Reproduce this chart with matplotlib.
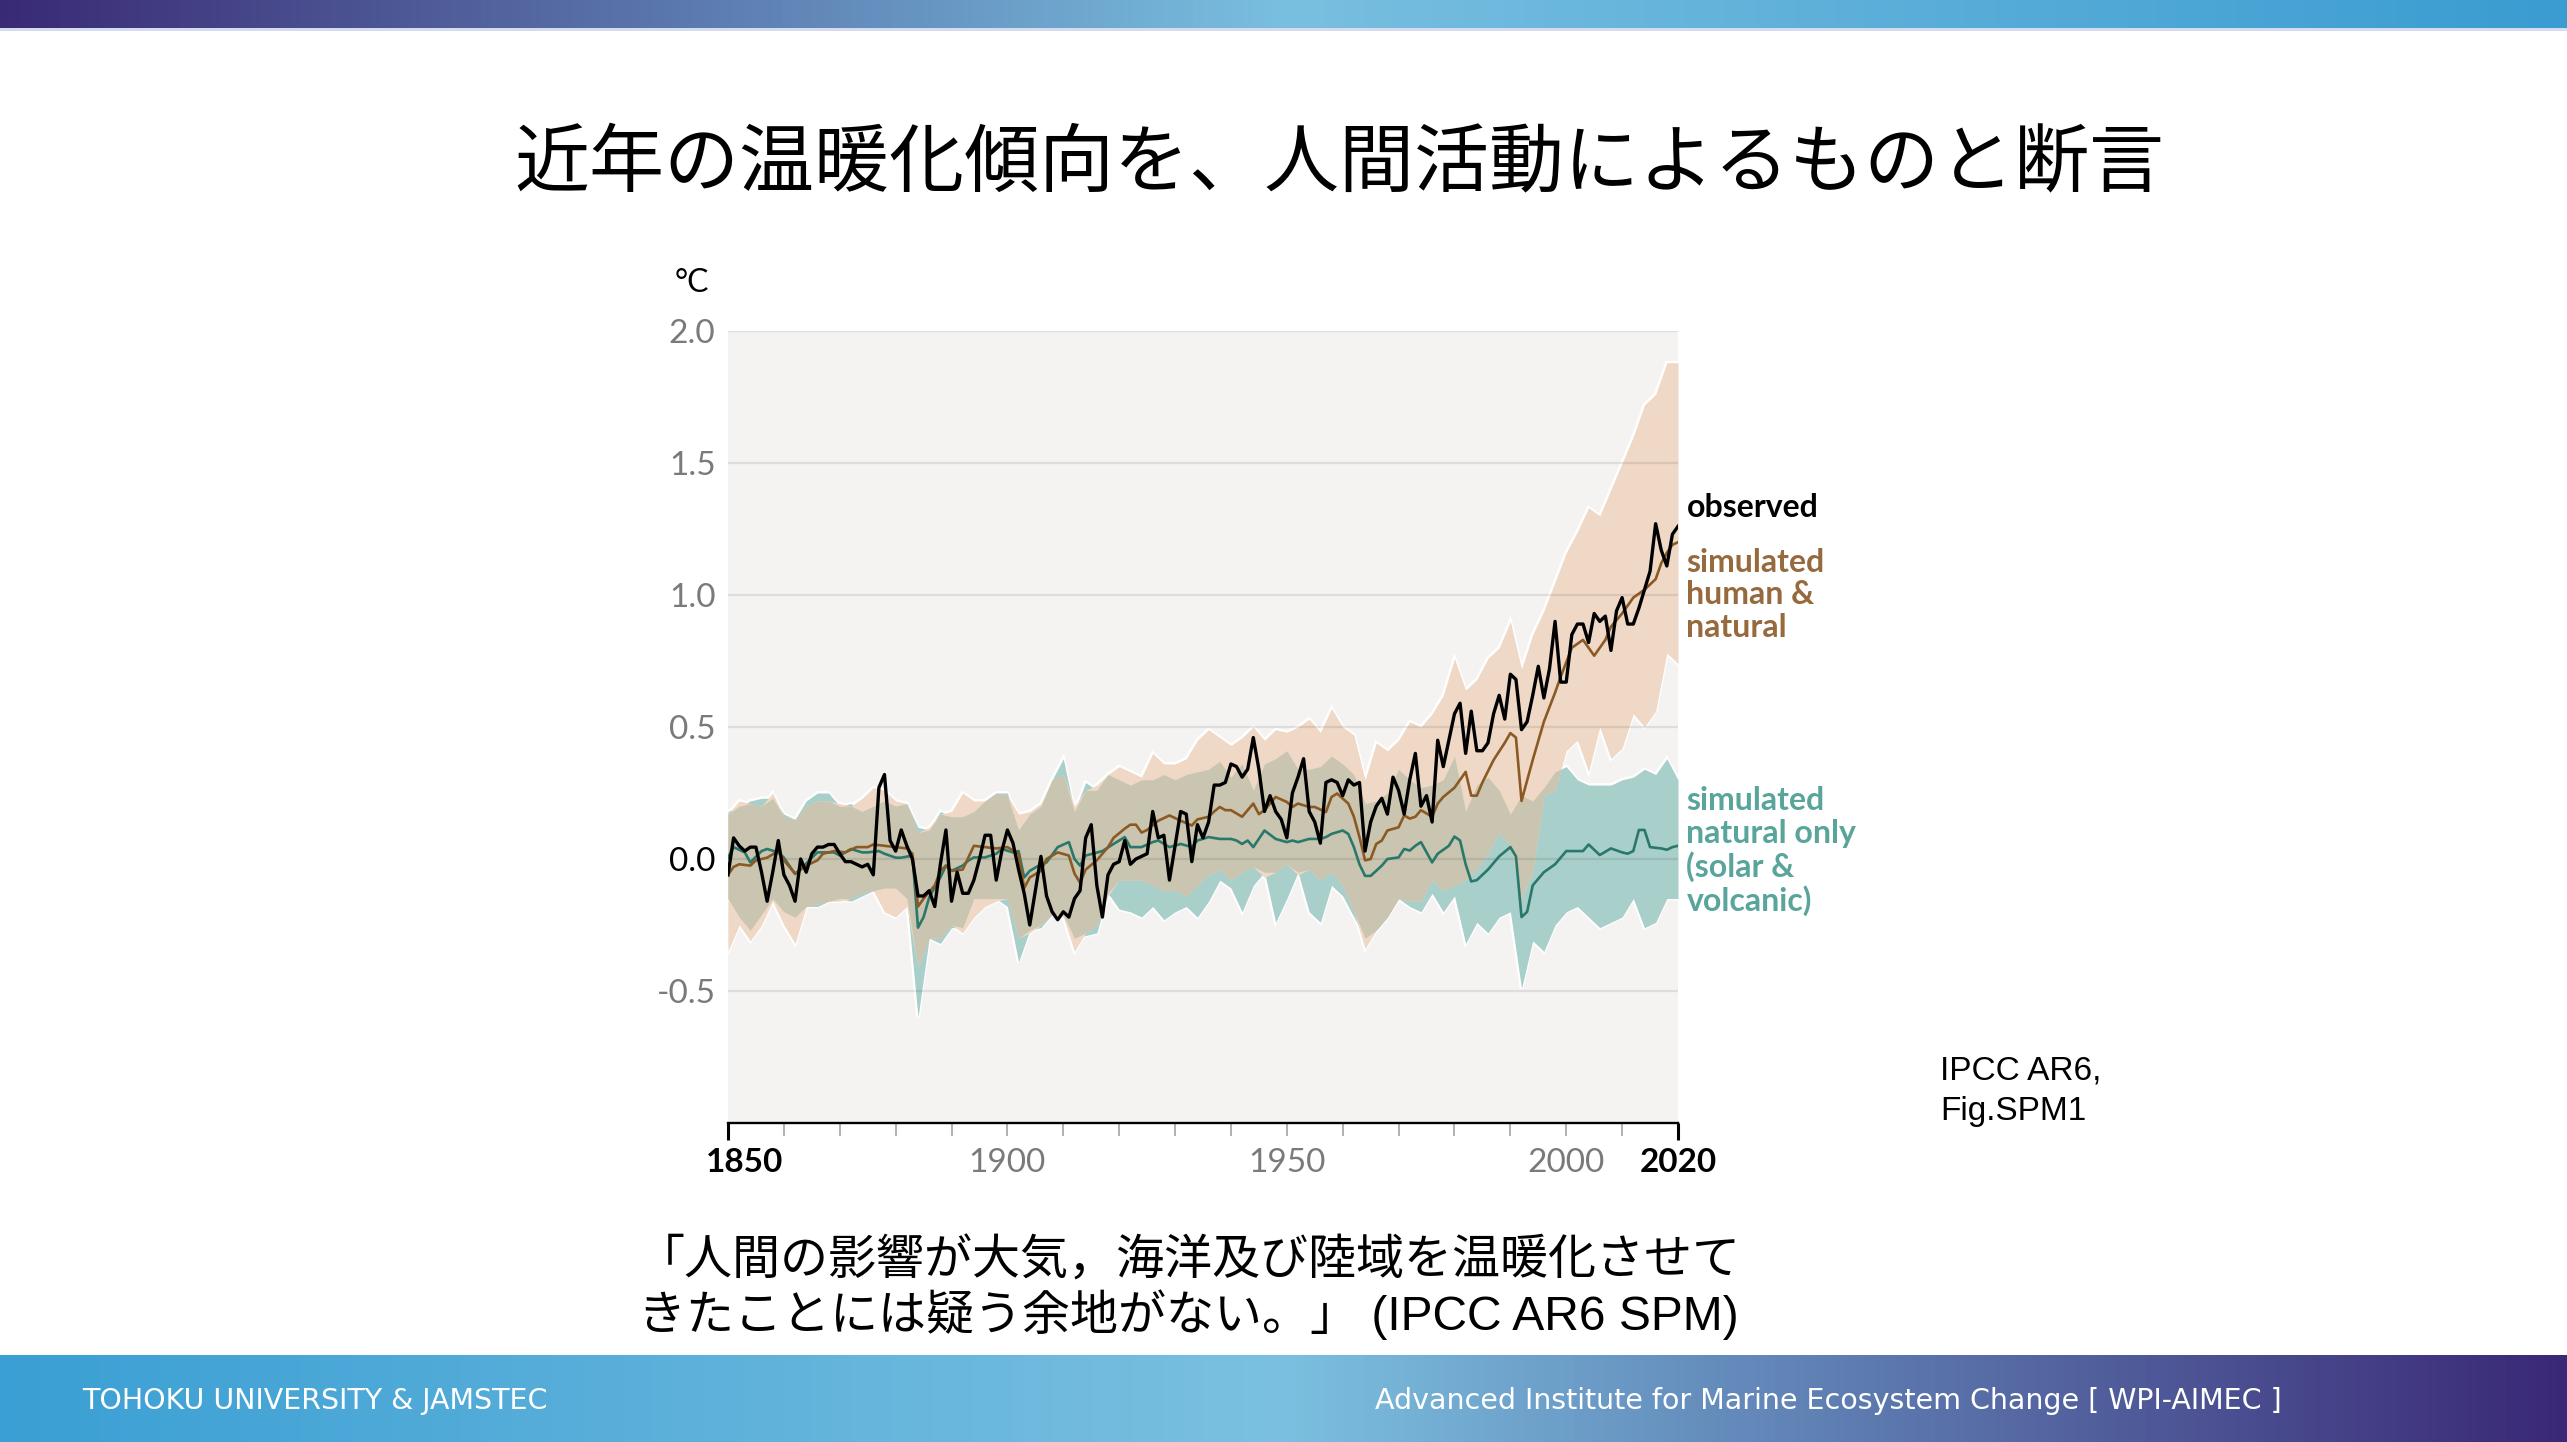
import numpy as np
import matplotlib
matplotlib.use("Agg")
import matplotlib.pyplot as plt
from matplotlib.colors import LinearSegmentedColormap
from matplotlib.transforms import ScaledTranslation

# observed annual global surface temperature, 1850-2020 (°C, rel. 1850-1900)
OBS_YEARS = list(range(1850, 2021))
OBS = [
    -0.06, 0.08, 0.05, 0.03, 0.045, 0.045, -0.05, -0.16, -0.05, 0.07,
    -0.06, -0.10, -0.16, 0.00, -0.05, 0.02, 0.045, 0.045, 0.055, 0.055,
    0.02, -0.01, -0.01, -0.02, -0.03, -0.02, -0.06, 0.27, 0.32, 0.07,
    0.03, 0.11, 0.05, 0.00, -0.14, -0.14, -0.12, -0.18, -0.02, 0.11,
    -0.16, -0.05, -0.13, -0.13, -0.08, 0.00, 0.09, 0.09, -0.08, 0.03,
    0.11, 0.06, -0.04, -0.13, -0.25, -0.12, 0.01, -0.14, -0.20, -0.23,
    -0.20, -0.22, -0.15, -0.12, 0.08, 0.13, -0.10, -0.22, -0.06, -0.02,
    -0.01, 0.07, -0.02, 0.00, 0.01, 0.02, 0.18, 0.08, 0.09, -0.08,
    0.05, 0.18, 0.17, -0.01, 0.13, 0.08, 0.14, 0.28, 0.28, 0.29,
    0.36, 0.35, 0.31, 0.34, 0.46, 0.34, 0.18, 0.24, 0.18, 0.15,
    0.08, 0.25, 0.31, 0.38, 0.18, 0.14, 0.06, 0.29, 0.30, 0.29,
    0.24, 0.30, 0.28, 0.29, 0.03, 0.14, 0.20, 0.23, 0.17, 0.31,
    0.26, 0.17, 0.30, 0.40, 0.20, 0.24, 0.14, 0.45, 0.35, 0.45,
    0.55, 0.59, 0.40, 0.56, 0.41, 0.41, 0.44, 0.55, 0.62, 0.53,
    0.70, 0.68, 0.49, 0.52, 0.62, 0.73, 0.61, 0.72, 0.90, 0.67,
    0.67, 0.85, 0.89, 0.89, 0.82, 0.93, 0.90, 0.92, 0.79, 0.94,
    0.99, 0.89, 0.89, 0.95, 1.02, 1.09, 1.27, 1.17, 1.11, 1.23,
    1.26,
]

# simulated human & natural (mean)
HN_YEARS = [
    1850, 1851, 1852, 1854, 1855, 1857, 1859, 1860, 1862, 1864, 1866, 1867, 1869,
    1871, 1873, 1875, 1876, 1878, 1880, 1882, 1883, 1884, 1885, 1887, 1888, 1889,
    1890, 1892, 1894, 1898, 1900, 1902, 1903, 1904, 1906, 1907, 1909, 1911, 1912,
    1913, 1914, 1916, 1918, 1919, 1921, 1922, 1923, 1924, 1925, 1927, 1929, 1931,
    1933, 1934, 1936, 1937, 1938, 1939, 1940, 1942, 1944, 1945, 1946, 1948, 1950,
    1951, 1952, 1954, 1955, 1957, 1958, 1959, 1961, 1962, 1963, 1964, 1965, 1966,
    1967, 1968, 1970, 1971, 1972, 1973, 1974, 1976, 1977, 1978, 1980, 1982, 1983,
    1984, 1985, 1987, 1989, 1990, 1991, 1992, 1994, 1996, 1998, 1999, 2001, 2003,
    2005, 2007, 2008, 2010, 2012, 2014, 2016, 2017, 2018, 2019, 2020,
]
HN_MEAN = [
    -0.06, -0.03, -0.02, -0.025, -0.005, 0.005, 0.03, -0.005, -0.055, -0.025,
    -0.005, 0.02, 0.03, 0.025, 0.045, 0.045, 0.055, 0.05, 0.045, 0.04, 0.02,
    -0.18, -0.15, -0.10, -0.045, -0.025, -0.045, -0.04, 0.05, 0.04, 0.045, 0.02,
    -0.11, -0.07, -0.045, 0.0, 0.025, 0.013, -0.055, -0.09, -0.04, -0.005, 0.045,
    0.08, 0.115, 0.13, 0.13, 0.10, 0.11, 0.145, 0.165, 0.145, 0.127, 0.15, 0.16,
    0.18, 0.197, 0.185, 0.185, 0.16, 0.21, 0.17, 0.185, 0.235, 0.216, 0.197, 0.21,
    0.197, 0.197, 0.178, 0.235, 0.248, 0.21, 0.16, 0.083, -0.005, 0.0, 0.057,
    0.07, 0.108, 0.12, 0.165, 0.153, 0.16, 0.185, 0.16, 0.21, 0.235, 0.27, 0.33,
    0.24, 0.24, 0.29, 0.375, 0.44, 0.477, 0.46, 0.22, 0.375, 0.52, 0.63, 0.69,
    0.80, 0.83, 0.77, 0.83, 0.88, 0.93, 0.99, 1.02, 1.06, 1.12, 1.16, 1.19, 1.20,
]

# simulated natural only (mean)
NAT_YEARS = [
    1850, 1851, 1853, 1854, 1856, 1857, 1859, 1860, 1862, 1863, 1865, 1866, 1869,
    1870, 1872, 1874, 1875, 1877, 1878, 1880, 1881, 1883, 1884, 1885, 1886, 1888,
    1889, 1890, 1892, 1893, 1894, 1896, 1898, 1899, 1901, 1902, 1903, 1904, 1906,
    1907, 1909, 1911, 1912, 1913, 1914, 1917, 1919, 1921, 1922, 1924, 1926, 1927,
    1929, 1931, 1933, 1934, 1936, 1938, 1940, 1941, 1942, 1943, 1944, 1946, 1948,
    1950, 1951, 1952, 1954, 1956, 1957, 1958, 1960, 1961, 1962, 1963, 1964, 1965,
    1967, 1968, 1970, 1971, 1972, 1973, 1974, 1976, 1977, 1979, 1980, 1981, 1982,
    1983, 1984, 1986, 1988, 1990, 1991, 1992, 1993, 1994, 1996, 1998, 2000, 2003,
    2004, 2006, 2008, 2010, 2011, 2012, 2013, 2014, 2015, 2017, 2018, 2019, 2020,
]
NAT_MEAN = [
    0.005, 0.045, 0.025, -0.013, 0.03, 0.038, 0.025, 0.005, -0.057, -0.04, 0.005,
    0.025, 0.025, 0.013, 0.038, 0.025, 0.025, 0.03, 0.02, 0.005, 0.005, 0.013,
    -0.26, -0.22, -0.146, -0.07, -0.025, -0.045, -0.025, -0.006, 0.006, 0.006,
    0.02, 0.038, 0.025, 0.03, -0.07, -0.045, -0.02, -0.013, 0.045, 0.064, 0.0,
    -0.025, 0.013, 0.03, 0.057, 0.083, 0.045, 0.045, 0.064, 0.07, 0.045, 0.057,
    0.045, 0.07, 0.083, 0.076, 0.076, 0.07, 0.057, 0.07, 0.045, 0.108, 0.076,
    0.064, 0.07, 0.064, 0.076, 0.076, 0.083, 0.095, 0.108, 0.095, 0.045, -0.02,
    -0.064, -0.064, -0.025, 0.0, 0.006, 0.038, 0.032, 0.05, 0.064, -0.013, 0.02,
    0.05, 0.085, 0.07, -0.02, -0.085, -0.08, -0.04, 0.01, 0.045, 0.01, -0.22,
    -0.20, -0.10, -0.05, -0.02, 0.03, 0.03, 0.055, 0.015, 0.04, 0.025, 0.02,
    0.03, 0.11, 0.11, 0.045, 0.04, 0.035, 0.045, 0.05,
]

# very likely ranges, read every two years
BAND_YEARS = list(range(1850, 2021, 2))
HN_HI = [
    0.17, 0.22, 0.21, 0.20, 0.25, 0.16, 0.15, 0.20, 0.22, 0.22,
    0.21, 0.20, 0.23, 0.27, 0.26, 0.22, 0.21, 0.10, 0.12, 0.17,
    0.18, 0.25, 0.22, 0.22, 0.25, 0.24, 0.17, 0.18, 0.21, 0.30,
    0.32, 0.20, 0.26, 0.28, 0.32, 0.35, 0.33, 0.31, 0.40, 0.36,
    0.36, 0.38, 0.45, 0.49, 0.46, 0.43, 0.46, 0.50, 0.45, 0.49,
    0.48, 0.50, 0.53, 0.48, 0.57, 0.50, 0.47, 0.30, 0.44, 0.41,
    0.45, 0.52, 0.50, 0.55, 0.62, 0.76, 0.64, 0.68, 0.76, 0.80,
    0.90, 0.72, 0.85, 0.94, 1.05, 1.16, 1.24, 1.33, 1.30, 1.40,
    1.50, 1.60, 1.72, 1.76, 1.88, 1.88,
]
HN_LO = [
    -0.35, -0.25, -0.31, -0.25, -0.16, -0.25, -0.32, -0.18, -0.17, -0.16,
    -0.16, -0.15, -0.13, -0.12, -0.20, -0.22, -0.18, -0.41, -0.30, -0.30,
    -0.25, -0.28, -0.22, -0.18, -0.16, -0.15, -0.30, -0.28, -0.25, -0.21,
    -0.22, -0.35, -0.28, -0.25, -0.14, -0.08, -0.08, -0.08, -0.10, -0.12,
    -0.12, -0.14, -0.10, -0.06, -0.04, -0.08, -0.05, -0.03, -0.07, -0.05,
    -0.02, -0.06, -0.04, -0.08, -0.05, -0.10, -0.20, -0.34, -0.27, -0.22,
    -0.15, -0.16, -0.16, -0.08, -0.12, -0.10, -0.08, -0.04, 0.02, 0.10,
    0.05, -0.15, -0.05, 0.24, 0.26, 0.41, 0.45, 0.33, 0.50, 0.38,
    0.42, 0.55, 0.50, 0.56, 0.78, 0.74,
]
NAT_HI = [
    0.18, 0.20, 0.22, 0.23, 0.23, 0.17, 0.15, 0.22, 0.25, 0.25,
    0.20, 0.21, 0.18, 0.20, 0.22, 0.20, 0.21, 0.12, 0.11, 0.18,
    0.16, 0.16, 0.18, 0.22, 0.25, 0.25, 0.11, 0.17, 0.20, 0.30,
    0.38, 0.18, 0.29, 0.26, 0.32, 0.30, 0.28, 0.30, 0.30, 0.32,
    0.30, 0.32, 0.33, 0.34, 0.37, 0.31, 0.36, 0.26, 0.36, 0.38,
    0.41, 0.34, 0.34, 0.35, 0.39, 0.36, 0.32, 0.21, 0.22, 0.25,
    0.34, 0.30, 0.27, 0.28, 0.30, 0.39, 0.18, 0.28, 0.31, 0.26,
    0.17, 0.24, 0.22, 0.27, 0.33, 0.35, 0.30, 0.28, 0.28, 0.28,
    0.30, 0.31, 0.34, 0.32, 0.38, 0.30,
]
NAT_LO = [
    -0.15, -0.22, -0.27, -0.21, -0.15, -0.20, -0.22, -0.18, -0.18, -0.16,
    -0.15, -0.16, -0.14, -0.12, -0.11, -0.11, -0.15, -0.60, -0.30, -0.32,
    -0.26, -0.26, -0.15, -0.15, -0.15, -0.18, -0.39, -0.27, -0.26, -0.21,
    -0.21, -0.30, -0.29, -0.28, -0.13, -0.19, -0.20, -0.22, -0.18, -0.23,
    -0.20, -0.18, -0.22, -0.16, -0.08, -0.11, -0.20, -0.10, -0.05, -0.24,
    -0.15, -0.05, -0.20, -0.24, -0.10, -0.14, -0.22, -0.30, -0.27, -0.22,
    -0.15, -0.18, -0.20, -0.13, -0.20, -0.14, -0.32, -0.24, -0.28, -0.22,
    -0.20, -0.49, -0.31, -0.35, -0.25, -0.20, -0.18, -0.22, -0.26, -0.24,
    -0.22, -0.15, -0.26, -0.24, -0.15, -0.15,
]

Y_TICKS = [-0.5, 0.0, 0.5, 1.0, 1.5, 2.0]
X_LABELS = {1900: "1900", 1950: "1950", 2000: "2000"}

TAN = "#efd9c6"
TEAL_FILL = "#a9cfcb"
OLIVE = "#c9c5b0"
BROWN = "#8b5a24"
TEAL = "#2a786c"
GREY = "#7a7a7a"

CJK = ["Noto Sans CJK JP", "DejaVu Sans"]
LATO = ["Lato", "DejaVu Sans"]

fig = plt.figure(figsize=(25.67, 14.42), dpi=100)


def gradient_bar(rect, colors):
    bar = fig.add_axes(rect)
    cmap = LinearSegmentedColormap.from_list("bar", colors)
    bar.imshow(np.linspace(0, 1, 512)[None, :], aspect="auto", cmap=cmap,
               extent=(0, 1, 0, 1))
    bar.set_axis_off()
    return bar


# header / footer bands
gradient_bar([0, 1 - 28 / 1442, 1, 28 / 1442],
             [(0.0, "#3a2a75"), (0.5, "#79bfe0"), (1.0, "#3a9cd1")])
fig.add_artist(plt.Rectangle((0, 1 - 31 / 1442), 1, 3 / 1442,
                             transform=fig.transFigure, color="#d6dcf0", lw=0))
gradient_bar([0, 0, 1, 87 / 1442],
             [(0.0, "#3a9fd4"), (0.5, "#7bc0e0"), (1.0, "#3a2876")])
fig.text(82 / 2567, 0.0284, "TOHOKU UNIVERSITY & JAMSTEC", color="white",
         fontsize=20.5, family="DejaVu Sans", va="center", ha="left")
fig.text(1375 / 2567, 0.0284,
         "Advanced Institute for Marine Ecosystem Change [ WPI-AIMEC ]",
         color="white", fontsize=20.5, family="DejaVu Sans", va="center", ha="left")

# title and captions
fig.text(0.5216, 0.886, "近年の温暖化傾向を、人間活動によるものと断言",
         fontsize=54, family=CJK, ha="center", va="center", color="black")
fig.text(0.463, 0.1255, "「人間の影響が大気，海洋及び陸域を温暖化させて",
         fontsize=34.6, family=CJK, ha="center", va="center")
fig.text(0.463, 0.0881, "きたことには疑う余地がない。」 (IPCC AR6 SPM)",
         fontsize=34.6, family=["Liberation Sans", "Noto Sans CJK JP"],
         ha="center", va="center")
fig.text(0.7557, 0.2431, "IPCC AR6,\nFig.SPM1", fontsize=24,
         family="Liberation Sans", ha="left", va="center", linespacing=1.4)

# main panel
ax = fig.add_axes([728 / 2567, 319 / 1442, 950 / 2567, 792 / 1442])
ax.set_facecolor("#f4f3f1")
ax.set_xlim(1850, 2020)
ax.set_ylim(-1.0, 2.0)

by = np.array(BAND_YEARS)
hh, hl = np.array(HN_HI), np.array(HN_LO)
nh, nl = np.array(NAT_HI), np.array(NAT_LO)

# white outline around the ranges, then opaque fills over it
for edge in (hh, hl, nh, nl):
    ax.plot(by, edge, color="white", lw=2.6, zorder=1, solid_joinstyle="miter")
ax.fill_between(by, nl, nh, color=TEAL_FILL, lw=0, zorder=2)
ax.fill_between(by, hl, hh, color=TAN, lw=0, zorder=2)
top = np.minimum(hh, nh)
bot = np.maximum(hl, nl)
ax.fill_between(by, bot, top, where=top > bot, interpolate=True,
                color=OLIVE, lw=0, zorder=3)

for y in Y_TICKS:
    ax.axhline(y, color="black", alpha=0.09, lw=1.6, zorder=4)

ax.plot(NAT_YEARS, NAT_MEAN, color=TEAL, lw=1.9, zorder=5)
ax.plot(HN_YEARS, HN_MEAN, color=BROWN, lw=1.9, zorder=6)
ax.plot(OBS_YEARS, OBS, color="black", lw=2.4, zorder=7)

for side in ("left", "right", "top"):
    ax.spines[side].set_visible(False)
ax.spines["bottom"].set_linewidth(1.7)
ax.spines["bottom"].set_zorder(8)

ax.set_yticks(Y_TICKS)
ax.set_yticklabels([f"{v:.1f}" for v in Y_TICKS], family=LATO, fontsize=24)
ax.tick_params(axis="y", length=0, pad=9)
for lab, v in zip(ax.get_yticklabels(), Y_TICKS):
    lab.set_color("black" if v == 0 else GREY)

ax.set_xticks([1850, 2020])
ax.set_xticklabels(["1850", "2020"], family=LATO, fontsize=24, fontweight="bold")
ax.tick_params(axis="x", which="major", length=12, width=2.2, color="black", pad=6)
# the first year label sits a little right of its tick
first = ax.get_xticklabels()[0]
first.set_transform(first.get_transform()
                    + ScaledTranslation(0.17, 0, fig.dpi_scale_trans))
minor = list(range(1860, 2020, 10))
ax.set_xticks(minor, minor=True)
ax.set_xticklabels([X_LABELS.get(m, "") for m in minor], minor=True,
                   family=LATO, fontsize=24, color=GREY)
ax.tick_params(axis="x", which="minor", length=9.5, width=1.4, color="#b0b0b0", pad=8.5)

fig.text(692 / 2567, 1 - 283 / 1442, "°C", family=LATO, fontsize=23,
         ha="center", va="center")

# series labels at the right edge
ax.text(2021.5, 1.33, "observed", family=LATO, fontsize=23, fontweight="bold",
        color="black", va="center", ha="left", clip_on=False)
ax.text(2021.5, 1.0, "simulated\nhuman &\nnatural", family=LATO, fontsize=23,
        fontweight="bold", color="#976a3e", va="center", ha="left",
        linespacing=1.13, clip_on=False)
ax.text(2021.5, 0.03, "simulated\nnatural only\n(solar &\nvolcanic)", family=LATO,
        fontsize=23, fontweight="bold", color="#5aa59b", va="center", ha="left",
        linespacing=1.13, clip_on=False)

fig.savefig("out.png", dpi=100, facecolor="white")
